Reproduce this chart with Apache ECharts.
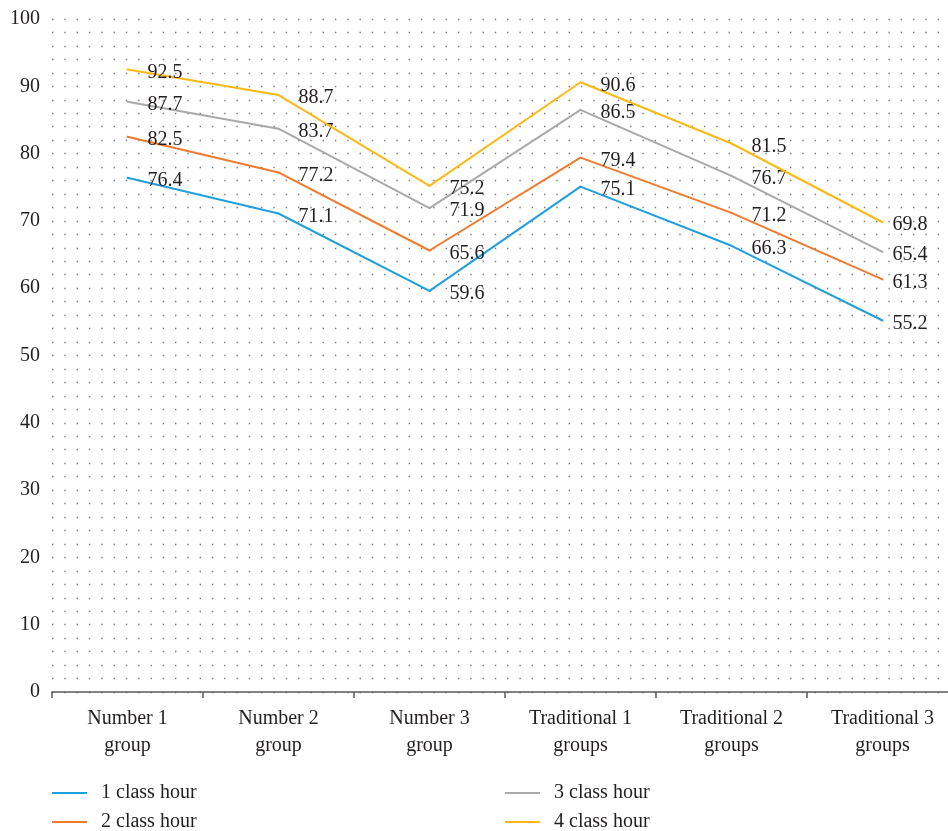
<!DOCTYPE html>
<html>
<head>
<meta charset="utf-8">
<style>
  html, body { margin: 0; padding: 0; background: #fff; overflow: hidden; }
  #chart { width: 960px; height: 831px; }
</style>
<script src="https://cdn.jsdelivr.net/npm/echarts@6/dist/echarts.min.js"></script>
</head>
<body>
<div id="chart"></div>
<script>
// Categories along the x axis
const categories = [
  'Number 1\ngroup', 'Number 2\ngroup', 'Number 3\ngroup',
  'Traditional 1\ngroups', 'Traditional 2\ngroups', 'Traditional 3\ngroups'
];

// Scores per class-hour setting
const hour1 = [76.4, 71.1, 59.6, 75.1, 66.3, 55.2];
const hour2 = [82.5, 77.2, 65.6, 79.4, 71.2, 61.3];
const hour3 = [87.7, 83.7, 71.9, 86.5, 76.7, 65.4];
const hour4 = [92.5, 88.7, 75.2, 90.6, 81.5, 69.8];

const seriesNames = ['1 class hour', '2 class hour', '3 class hour', '4 class hour'];
const seriesData = [hour1, hour2, hour3, hour4];
const colors = ['#1f9fdb', '#ef7b2f', '#a9a9a9', '#fdb913'];

const FONT = '"Liberation Serif", "DejaVu Serif", serif';
const TEXT = '#231f20';
const FS = 20;

const dotted = { color: '#7a7a7a', width: 1.4, type: [1.4, 10.9] };

// Legend entries laid out in two columns of two rows
const legendSpots = [
  { left: 52, top: 783 },
  { left: 52, top: 812 },
  { left: 505, top: 783 },
  { left: 505, top: 812 }
];

const chart = echarts.init(document.getElementById('chart'));

// the last labels sit a little closer to their points so they stay on screen
function withLabelNudge(values) {
  const last = values.length - 1;
  return values.map((v, j) => (j === last ? { value: v, label: { offset: [-10, 3] } } : v));
}

chart.setOption({
  animation: false,
  color: colors,
  textStyle: { fontFamily: FONT },
  // the plot runs slightly past the visible right edge
  grid: { left: 52, right: 2, top: 19, bottom: 139, containLabel: false },
  legend: seriesNames.map((name, i) => ({
    left: legendSpots[i].left,
    top: legendSpots[i].top,
    padding: 0,
    data: [name],
    itemWidth: 35,
    itemHeight: 2,
    icon: 'rect',
    textStyle: { fontFamily: FONT, fontSize: FS, color: TEXT, padding: [0, 0, 0, 9] }
  })),
  xAxis: {
    type: 'category',
    data: categories,
    boundaryGap: true,
    axisLine: { lineStyle: { color: '#595959', width: 1.5 } },
    axisTick: { show: true, length: 6, lineStyle: { color: '#595959', width: 1.5 } },
    axisLabel: {
      interval: 0, margin: 13, fontFamily: FONT, fontSize: FS, color: TEXT, lineHeight: 27
    },
    splitLine: { show: false }
  },
  yAxis: {
    type: 'value',
    min: 0, max: 100, interval: 10,
    axisLine: { show: false },
    axisTick: { show: false },
    axisLabel: { margin: 12, fontFamily: FONT, fontSize: FS, color: TEXT },
    splitLine: { show: true, lineStyle: dotted },
    minorTick: { show: false, splitNumber: 5 },
    minorSplitLine: { show: true, lineStyle: dotted }
  },
  series: seriesNames.map((name, i) => ({
    name,
    type: 'line',
    data: withLabelNudge(seriesData[i]),
    symbol: 'circle',
    symbolSize: 2,
    showSymbol: true,
    lineStyle: { width: 2, color: colors[i] },
    itemStyle: { color: colors[i] },
    label: {
      show: true,
      position: 'right',
      distance: 19,
      offset: [0, 3],
      fontFamily: FONT,
      fontSize: FS,
      color: TEXT
    },
    z: 2 + i
  }))
});
</script>
</body>
</html>
